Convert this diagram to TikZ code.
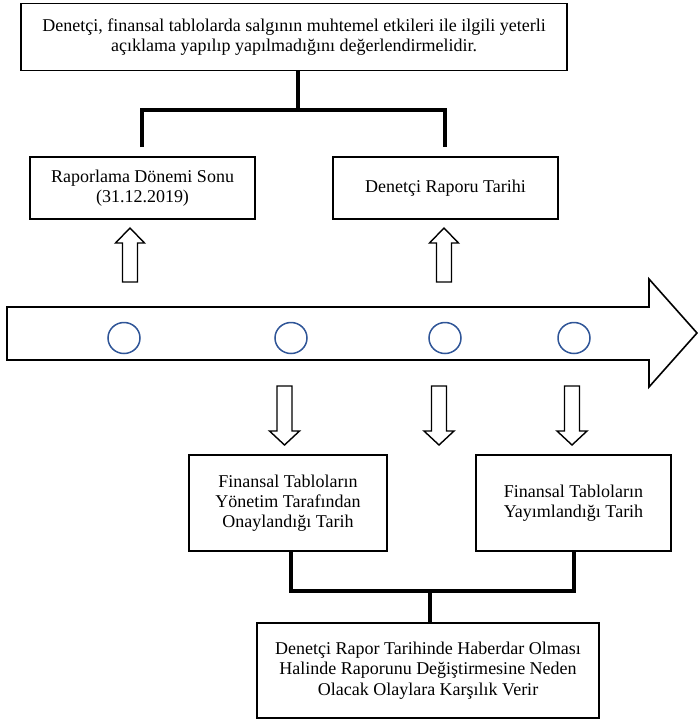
\documentclass[tikz,border=0pt]{standalone}
\usepackage{fontspec}
\setmainfont{Liberation Serif}
\definecolor{circblue}{RGB}{47,85,151}
\begin{document}
\begin{tikzpicture}[x=1pt,y=-1pt,
  box/.style={draw, line width=1.6pt, align=center, inner sep=0pt,
    font=\fontsize{18}{20.3}\selectfont},
  conn/.style={line width=4pt},
  blk/.style={draw, line width=1.4pt, line join=miter},
  dot/.style={draw=circblue, line width=1.5pt}]
\useasboundingbox (0,0) rectangle (697,721);

% boxes
\node[box, minimum width=546pt, minimum height=67pt] (top) at (294,37)
  {Denetçi, finansal tablolarda salgının muhtemel etkileri ile ilgili yeterli\\açıklama yapılıp yapılmadığını değerlendirmelidir.};
\node[box, minimum width=225pt, minimum height=62pt] (r1) at (142.5,188)
  {Raporlama Dönemi Sonu\\(31.12.2019)};
\node[box, minimum width=225pt, minimum height=62pt] (r2) at (445.5,188)
  {Denetçi Raporu Tarihi};
\node[box, minimum width=198pt, minimum height=96pt] (b1) at (288,503)
  {Finansal Tabloların\\Yönetim Tarafından\\Onaylandığı Tarih};
\node[box, minimum width=195pt, minimum height=96pt] (b2) at (573.5,503)
  {Finansal Tabloların\\Yayımlandığı Tarih};
\node[box, minimum width=342pt, minimum height=95pt] (b3) at (428,670.5)
  {Denetçi Rapor Tarihinde Haberdar Olması\\Halinde Raporunu Değiştirmesine Neden\\Olacak Olaylara Karşılık Verir};

% connectors
\coordinate (j1) at (297.5,110);
\coordinate (e1) at (141.5,147);
\coordinate (e2) at (444.5,147);
\draw[conn] (top.south -| j1) -- (j1);
\draw[conn] (e1) |- (j1) -| (e2);
\coordinate (j2) at (430,591);
\draw[conn] ([xshift=3pt]b1.south) |- (j2) -| (b2.south);
\draw[conn] (j2) -- (b3.north -| j2);

% timeline arrow
\draw[line width=1.6pt, line join=miter] (7,307) -- (649,307) -- (649,279) -- (697,333)
  -- (649,387) -- (649,360) -- (7,360) -- cycle;

% circles
\foreach \cx in {124,291,445,574}
  \draw[dot] (\cx,338) ellipse (16pt and 15.5pt);

% up arrows
\foreach \cx in {130,444}
  \draw[blk] (\cx-7.5,282) -- (\cx-7.5,243) -- (\cx-14.5,243) -- (\cx,228)
    -- (\cx+14.5,243) -- (\cx+7.5,243) -- (\cx+7.5,282) -- cycle;

% down arrows
\foreach \cx in {284.5,439,572}
  \draw[blk] (\cx-7.5,386) -- (\cx-7.5,431) -- (\cx-15,431) -- (\cx,445)
    -- (\cx+15,431) -- (\cx+7.5,431) -- (\cx+7.5,386) -- cycle;
\end{tikzpicture}
\end{document}
